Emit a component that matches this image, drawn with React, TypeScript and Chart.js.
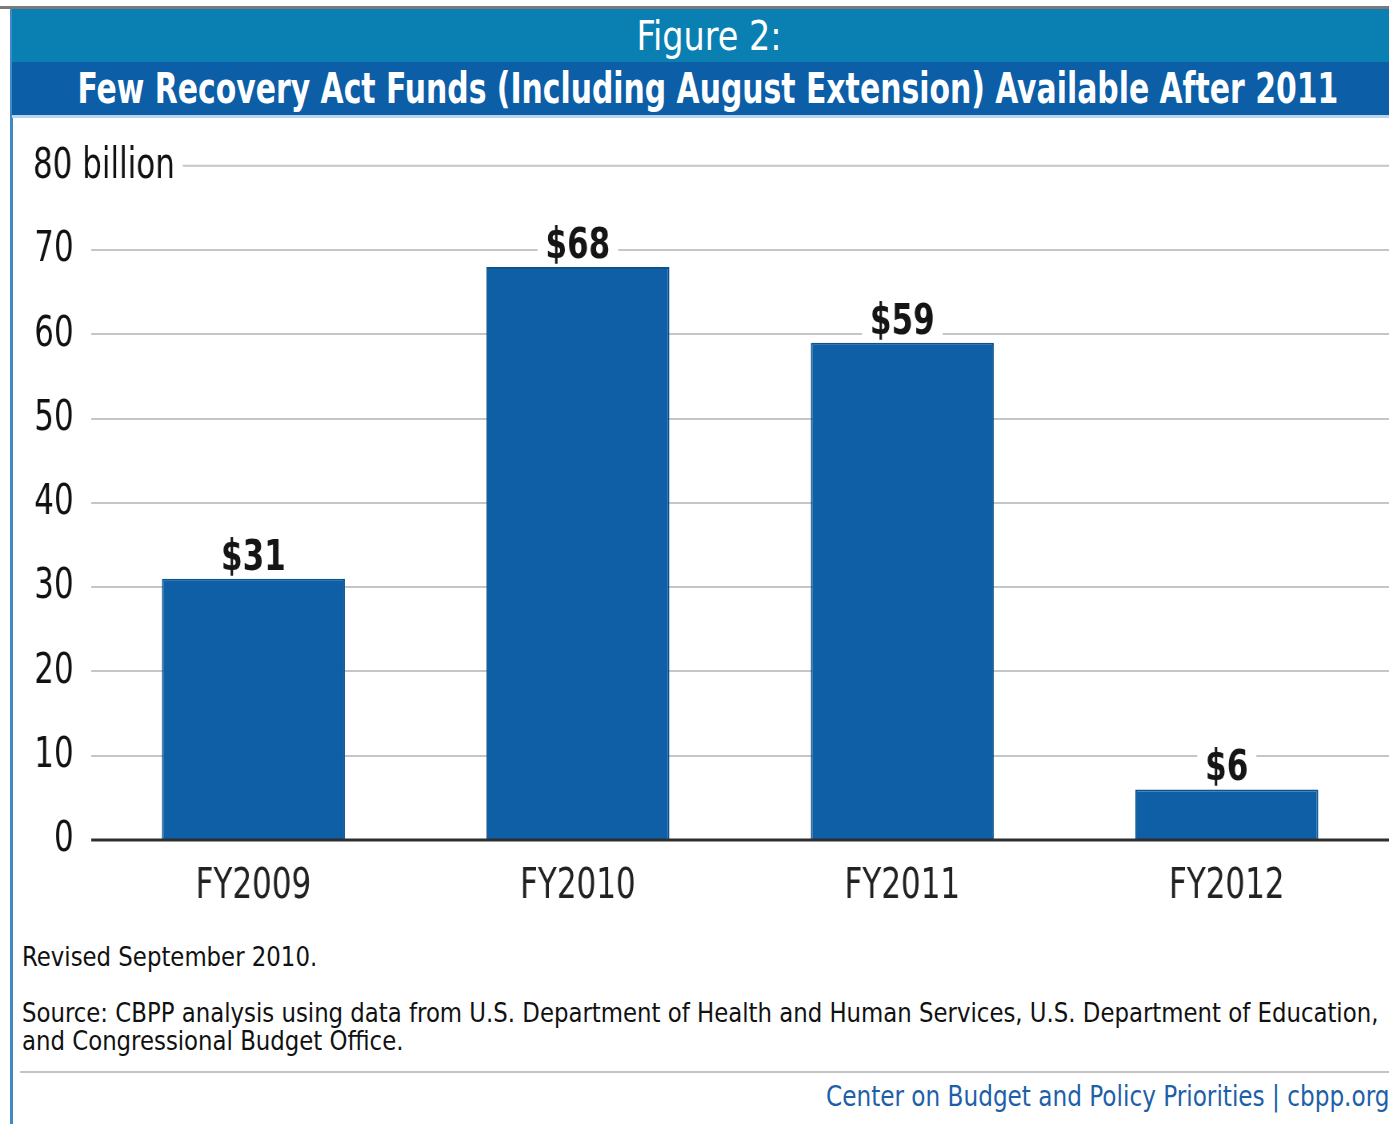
import React, { useEffect, useRef } from "react";
import { Chart, registerables } from "chart.js";

Chart.register(...registerables);

const categories = ["FY2009", "FY2010", "FY2011", "FY2012"];
const fundsBillions = [31, 68, 59, 6];
const valueLabels = ["$31", "$68", "$59", "$6"];
const yMin = 0;
const yMax = 80;
const yStep = 5;
const topTickLabel = "80 billion";
const figureLabel = "Figure 2:";
const titleText = "Few Recovery Act Funds (Including August Extension) Available After 2011";
const revisedNote = "Revised September 2010.";
const sourceLines = [
  "Source: CBPP analysis using data from U.S. Department of Health and Human Services, U.S. Department of Education,",
  "and Congressional Budget Office.",
];
const creditText = "Center on Budget and Policy Priorities | cbpp.org";

const FONT = '"DejaVu Sans Condensed", "Liberation Sans Narrow", "DejaVu Sans", sans-serif';

// canvas is drawn wider internally and squeezed horizontally to imitate a condensed typeface
const CANVAS_LEFT = 12;
const CANVAS_TOP = 118;
const VIS_W = 1377;
const CANVAS_W = 1721;
const CANVAS_H = 807;
const K = VIS_W / CANVAS_W;

const overlayPlugin = {
  id: "overlay",
  afterDatasetsDraw(chart: any) {
    const { ctx, chartArea, scales } = chart;
    const y = scales.y;
    ctx.save();
    const y0 = y.getPixelForValue(0);
    ctx.strokeStyle = "#2e2e2e";
    ctx.lineWidth = 3;
    ctx.beginPath();
    ctx.moveTo(chartArea.left, y0);
    ctx.lineTo(chartArea.right, y0);
    ctx.stroke();

    const yTop = y.getPixelForValue(yMax);
    ctx.font = `43px ${FONT}`;
    ctx.fillStyle = "#111";
    ctx.textAlign = "left";
    ctx.textBaseline = "middle";
    const tx = 21 / K;
    ctx.fillText(topTickLabel, tx, yTop + 1);
    const tw = ctx.measureText(topTickLabel).width;
    ctx.strokeStyle = "#c6c6c6";
    ctx.lineWidth = 2;
    ctx.beginPath();
    ctx.moveTo(tx + tw + 8 / K, yTop);
    ctx.lineTo(chartArea.right, yTop);
    ctx.stroke();

    const meta = chart.getDatasetMeta(0);
    ctx.font = `bold 43px ${FONT}`;
    ctx.textAlign = "center";
    ctx.textBaseline = "alphabetic";
    meta.data.forEach((bar: any, i: number) => {
      const label = valueLabels[i];
      const w = ctx.measureText(label).width;
      const base = bar.y - 9;
      ctx.fillStyle = "#ffffff";
      ctx.fillRect(bar.x - w / 2 - 10, base - 36, w + 20, 44);
      ctx.fillStyle = "#151515";
      ctx.fillText(label, bar.x, base);
    });
    ctx.restore();
  },
};

export default function App() {
  const ref = useRef<HTMLCanvasElement | null>(null);

  useEffect(() => {
    if (!ref.current) return;
    const chart = new Chart(ref.current, {
      type: "bar",
      data: {
        labels: categories,
        datasets: [
          {
            data: fundsBillions,
            backgroundColor: "#0e5fa5",
            borderColor: "#0b538f",
            borderWidth: 2,
            barPercentage: 0.564,
            categoryPercentage: 1,
          },
        ],
      },
      options: {
        responsive: false,
        animation: false,
        devicePixelRatio: 1,
        layout: { padding: { top: 46, left: 0, right: 0, bottom: 0 } },
        plugins: { legend: { display: false }, tooltip: { enabled: false }, title: { display: false } },
        scales: {
          x: {
            grid: { display: false, drawTicks: false },
            border: { display: false },
            ticks: { font: { family: FONT, size: 43 }, color: "#222", padding: 21 },
            afterFit: (s: any) => {
              s.height = 85;
            },
          },
          y: {
            min: yMin,
            max: yMax,
            border: { display: false },
            grid: {
              drawTicks: false,
              lineWidth: 2,
              color: (c: any) => {
                const v = c.tick ? c.tick.value : 0;
                if (v === 0 || v === yMax) return "rgba(0,0,0,0)";
                return v % 10 === 0 ? "#c6c6c6" : "#ebebeb";
              },
            },
            ticks: {
              stepSize: yStep,
              padding: 22,
              color: "#111",
              font: { family: FONT, size: 43 },
              callback: (v: any) => (v % 10 === 0 && v !== yMax ? String(v) : ""),
            },
            afterFit: (s: any) => {
              s.width = Math.round(79 / K);
            },
          },
        },
      },
      plugins: [overlayPlugin],
    });
    return () => chart.destroy();
  }, []);

  const abs = (o: React.CSSProperties): React.CSSProperties => ({ position: "absolute", ...o });
  const squeeze = (k: number, origin: string): React.CSSProperties => ({
    display: "inline-block",
    transform: `scaleX(${k})`,
    transformOrigin: origin,
    whiteSpace: "nowrap",
  });

  return (
    <div style={abs({ left: 0, top: 0, width: 1389, height: 1124, background: "#fff", overflow: "hidden", fontFamily: FONT })}>
      <div style={abs({ left: 0, top: 6, width: 1389, height: 3, background: "#7a7a7a" })} />
      <div style={abs({ left: 10, top: 9, width: 3, height: 1115, background: "#3f89c8" })} />
      <div style={abs({ left: 12, top: 9, width: 1377, height: 53, background: "#0a80b2", color: "#fff", fontSize: 40, lineHeight: "54px", textAlign: "center", paddingLeft: 16, boxSizing: "border-box", whiteSpace: "nowrap" })}>
        <span style={squeeze(0.93, "center")}>{figureLabel}</span>
      </div>
      <div style={abs({ left: 12, top: 62, width: 1377, height: 53, background: "#0c5ea7", color: "#fff", fontSize: 42, fontWeight: "bold", lineHeight: "54px", textAlign: "center", paddingLeft: 14, boxSizing: "border-box", whiteSpace: "nowrap", overflow: "visible" })}>
        <span style={{ ...squeeze(0.79, "center"), margin: "0 -200px" }}>{titleText}</span>
      </div>
      <div style={abs({ left: 12, top: 115, width: 1377, height: 3, background: "#b9d4ec" })} />
      <canvas
        ref={ref}
        width={CANVAS_W}
        height={CANVAS_H}
        style={abs({ left: CANVAS_LEFT, top: CANVAS_TOP, width: CANVAS_W, height: CANVAS_H, transform: `scaleX(${K})`, transformOrigin: "0 0" })}
      />
      <div style={abs({ left: 22, top: 941, fontSize: 27, lineHeight: "32px", color: "#111" })}>
        <span style={squeeze(0.94, "0 0")}>{revisedNote}</span>
      </div>
      <div style={abs({ left: 22, top: 999, fontSize: 27, lineHeight: "28px", color: "#111", width: 1600 })}>
        <span style={squeeze(0.94, "0 0")}>
          {sourceLines[0]}
          <br />
          {sourceLines[1]}
        </span>
      </div>
      <div style={abs({ left: 20, top: 1071, width: 1369, height: 2, background: "#c4c4c4" })} />
      <div style={abs({ right: 0, top: 1081, fontSize: 28, lineHeight: "32px", color: "#1d5fa8" })}>
        <span style={squeeze(0.92, "100% 0")}>{creditText}</span>
      </div>
    </div>
  );
}
